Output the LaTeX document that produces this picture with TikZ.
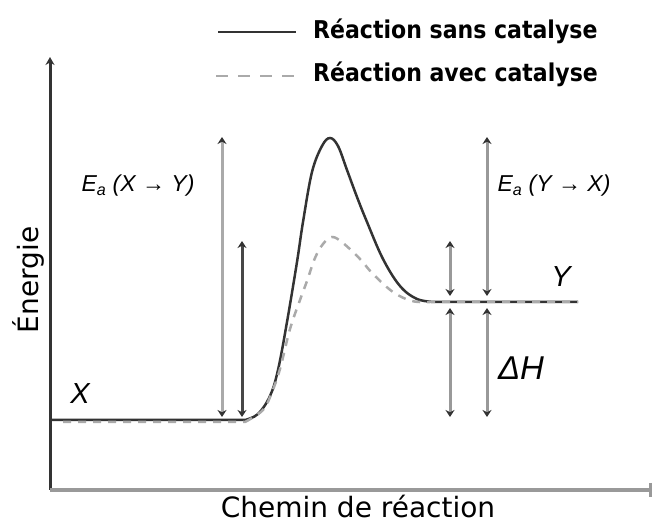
\documentclass[tikz,border=0pt]{standalone}
\usepackage{fontspec}
\setmainfont{Liberation Sans}
\newfontfamily\legfont{DejaVu Sans Condensed}
\newfontfamily\labfont{DejaVu Sans}
\usetikzlibrary{arrows.meta}
\definecolor{darkline}{HTML}{333333}
\definecolor{lightline}{HTML}{AAAAAA}
\definecolor{midline}{HTML}{999999}
\tikzset{
  axisline/.style={line width=3pt,darkline},
  solidcurve/.style={line width=2.5pt,darkline},
  dashcurve/.style={line width=2.5pt,lightline,dash pattern=on 8pt off 7pt},
  dimarrow/.style={line width=3pt,midline,{Stealth[length=7pt,width=9pt,color=darkline]}-{Stealth[length=7pt,width=9pt,color=darkline]}},
  legtext/.style={font=\legfont\bfseries\fontsize{24.5}{26}\selectfont,anchor=west,inner sep=0pt},
  lab/.style={font=\itshape\fontsize{23}{25}\selectfont,inner sep=0pt},
  biglab/.style={font=\itshape\fontsize{29}{31}\selectfont,inner sep=0pt}
}
\begin{document}
\begin{tikzpicture}[x=1pt,y=-1pt]
\useasboundingbox (0,0) rectangle (657,526);
% axes
\coordinate (O) at (50,490);
\coordinate (ytop) at (50,57);
\coordinate (xend) at (652,490);
\draw[axisline,-{Stealth[length=8pt,width=9pt]}] (O) -- (ytop);
\draw[line width=4pt,color=midline,-{Bar[width=14pt,line width=3pt]}] (O) -- (xend);
% curves
\draw[solidcurve] (50,420) -- (245,420)
  plot[smooth,tension=0.6] coordinates {(245,420) (258,414) (270,396) (278,370) (287,322) (297,262) (303,222) (312,172) (322,146) (330,138) (338,146) (347,170) (357,197) (367,222) (383,259) (400,286) (417,299) (435,302)}
  -- (578,302);
\draw[dashcurve] (63,422) -- (245,422)
  plot[smooth,tension=0.6] coordinates {(245,422) (263,410) (272,392) (280,369) (290,329) (300,300) (307,281) (315,258) (323,244) (332,237) (343,243) (360,259) (373,274) (393,292) (412,301) (430,302)}
  -- (578,302);
% dimension arrows
\coordinate (a1t) at (222,137); \coordinate (a1b) at (222,417);
\coordinate (a2t) at (242,241); \coordinate (a2b) at (242,417);
\draw[dimarrow,color=lightline] (a1t) -- (a1b);
\draw[dimarrow,color=darkline!90] (a2t) -- (a2b);
\coordinate (b1t) at (450,241); \coordinate (b1m) at (450,296);
\coordinate (b1n) at (450,308); \coordinate (b1b) at (450,417);
\coordinate (c1t) at (487,137); \coordinate (c1m) at (487,296);
\coordinate (c1n) at (487,308); \coordinate (c1b) at (487,417);
\draw[dimarrow] (b1t) -- (b1m);
\draw[dimarrow] (b1n) -- (b1b);
\draw[dimarrow] (c1t) -- (c1m);
\draw[dimarrow] (c1n) -- (c1b);
% labels
\node[lab] (eaxy) at (138,186) {E\textsubscript{a} (X → Y)};
\node[lab] (eayx) at (554,186) {E\textsubscript{a} (Y → X)};
\node[biglab] (ylab) at (561,277) {Y};
\node[biglab] (xlab) at (80,394) {X};
\node[biglab,font=\itshape\fontsize{33}{35}\selectfont] (dh) at (521,368) {ΔH};
\node[font=\labfont\fontsize{28}{30}\selectfont,rotate=90,inner sep=0pt] (en) at (28,280) {Énergie};
\node[font=\labfont\fontsize{28}{30}\selectfont,inner sep=0pt] (ch) at (358,507) {Chemin de réaction};
% legend
\coordinate (l1a) at (218,32); \coordinate (l1b) at (296,32);
\coordinate (l2a) at (216,76); \coordinate (l2b) at (298,76);
\draw[solidcurve] (l1a) -- (l1b);
\draw[dashcurve,dash pattern=on 12pt off 10pt] (l2a) -- (l2b);
\node[legtext] (t1) at (313,31) {Réaction sans catalyse};
\node[legtext] (t2) at (313,74) {Réaction avec catalyse};
\end{tikzpicture}
\end{document}
